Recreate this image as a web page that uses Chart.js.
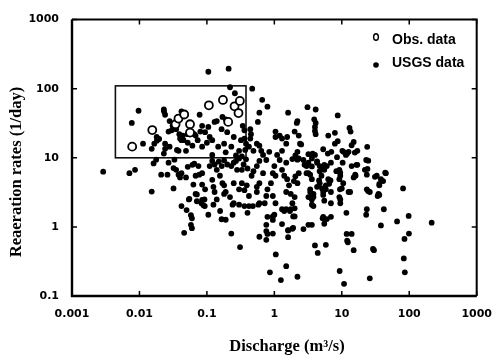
<!DOCTYPE html>
<html>
<head>
<meta charset="utf-8">
<script src="https://cdn.jsdelivr.net/npm/chart.js@4"></script>
<style>
  html, body { margin: 0; padding: 0; background: #fff; }
  #wrap { width: 504px; height: 358px; position: relative; }
</style>
</head>
<body>
<div id="wrap"><canvas id="chart"></canvas></div>
<script>
// Axis ticks (decades only)
const xTicks = [0.001, 0.01, 0.1, 1, 10, 100, 1000];
const yTicks = [0.1, 1, 10, 100, 1000];

// Highlighted range (rectangle) in data units
const boxQ = [0.0044, 0.38];
const boxK = [10, 110];

// Observed data: [discharge m3/s, reaeration 1/day]
const obsData = [
  [0.0078, 14.5], [0.0155, 25.2], [0.0343, 30.6], [0.0379, 37], [0.0461, 42.3],
  [0.0562, 30.6], [0.0562, 23.2], [0.107, 57.5], [0.173, 68.7], [0.257, 55.6],
  [0.308, 66.5], [0.294, 44.4], [0.207, 33.1]
];

// USGS data: [discharge m3/s, reaeration 1/day]
const usgsData = [
  // upper left (inside box)
  [0.0077, 32], [0.0097, 48], [0.0113, 16], [0.0152, 13.5], [0.0166, 16], [0.0181, 17.7],
  [0.0196, 18.7], [0.018, 20], [0.0231, 47], [0.024, 42], [0.023, 50], [0.028, 34],
  [0.031, 29], [0.030, 25], [0.027, 24], [0.035, 26], [0.039, 22], [0.044, 21],
  [0.042, 18], [0.040, 19], [0.052, 16.5], [0.061, 15], [0.049, 12.6], [0.038, 12.6],
  [0.036, 13], [0.028, 14.5], [0.024, 13.5], [0.023, 11.5], [0.024, 16], [0.042, 47],
  [0.038, 38], [0.034, 29], [0.052, 22], [0.065, 22], [0.078, 42], [0.085, 29],
  [0.085, 14.5], [0.073, 18], [0.068, 21], [0.080, 24], [0.094, 23.5], [0.045, 18],
  [0.105, 176], [0.21, 195], [0.105, 28], [0.1, 16.5], [0.12, 18], [0.147, 14.5],
  [0.18, 16], [0.23, 14.5], [0.30, 12.6], [0.32, 18], [0.25, 20], [0.20, 23.5],
  [0.165, 26], [0.13, 33], [0.17, 39], [0.19, 36], [0.14, 34], [0.26, 86], [0.22, 105],
  [0.34, 29], [0.36, 25], [0.36, 19], [0.38, 16], [0.37, 13], [0.11, 20], [0.12, 11],
  [0.19, 12], [0.27, 10.8], [0.33, 10.5],
  // upper right
  [0.47, 100], [0.66, 69], [0.79, 55], [0.6, 45], [0.57, 33], [0.44, 26], [0.45, 22],
  [0.44, 19], [0.49, 12.6], [0.42, 14.5], [0.68, 11], [0.64, 12.6], [0.6, 15], [0.55, 16],
  [0.84, 12.2], [1.1, 11], [1.3, 12.6], [1.5, 16], [1.55, 20], [1.3, 19], [1.04, 20],
  [1.04, 24], [1.2, 21], [1.6, 45], [2.0, 24], [2.3, 21], [2.2, 34], [2.4, 16],
  [2.15, 32], [2.5, 15.6], [2.2, 12.2], [2.05, 10.8], [3.2, 11.3], [3.7, 11.5], [4.0, 11],
  [3.1, 54], [4.1, 50], [3.9, 36], [4.1, 32], [4.0, 28], [4.0, 24.5], [4.1, 22], [6.3, 21],
  [8.7, 41], [7.9, 23], [8.7, 17.4], [7.9, 16], [10.2, 12.6], [12.6, 12.2], [11.5, 11],
  [13, 27], [13.5, 24], [15, 17], [14, 15.2], [17, 12.6], [23.8, 14.4], [5.3, 13.3],
  [6.2, 11.5], [7, 12.2], [10.6, 12.2], [12, 11.5], [15.6, 11.9], [8.5, 10.2],
  // middle band (1 - 10)
  [0.0029, 6.3], [0.0071, 6.0], [0.0086, 6.7], [0.0152, 3.25], [0.0162, 8.3], [0.0177, 9.4],
  [0.021, 5.7], [0.026, 5.7], [0.027, 8.5], [0.032, 7.1], [0.033, 9.4], [0.035, 6.7],
  [0.038, 5.7], [0.04, 5.2], [0.042, 6.0], [0.032, 3.6], [0.049, 5.2], [0.052, 7.4],
  [0.065, 8.2], [0.061, 7.9], [0.068, 5.5], [0.077, 5.7], [0.075, 7.6], [0.085, 6.0],
  [0.063, 4.1], [0.085, 4.1], [0.094, 3.5], [0.068, 3.0], [0.054, 2.5], [0.071, 2.95],
  [0.092, 2.5], [0.083, 2.2], [0.071, 2.35], [0.085, 2.45], [0.089, 2.05], [0.042, 2.0],
  [0.05, 1.75], [0.055, 2.55], [0.058, 1.48], [0.06, 1.33], [0.058, 1.07], [0.06, 0.96],
  [0.046, 0.82], [0.105, 1.5], [0.125, 2.1], [0.093, 2.0], [0.157, 1.7], [0.14, 2.5],
  [0.18, 3.0], [0.13, 3.2], [0.125, 3.8], [0.12, 4.8], [0.11, 7.6], [0.14, 6.7],
  [0.166, 7.6], [0.156, 5.5], [0.17, 4.3], [0.18, 4.0], [0.19, 3.2], [0.22, 2.7],
  [0.24, 2.1], [0.25, 2.2], [0.3, 2.1], [0.36, 2.0], [0.42, 2.0], [0.48, 2.0], [0.4, 1.6],
  [0.58, 2.1], [0.165, 1.29], [0.19, 1.27], [0.24, 1.5], [0.23, 0.8], [0.31, 0.51],
  [0.23, 7.6], [0.25, 8.5], [0.28, 6.7], [0.33, 6.7], [0.30, 9.8], [0.33, 4.3], [0.39, 4.0],
  [0.36, 3.4], [0.30, 3.5], [0.25, 4.3], [0.42, 2.8], [0.46, 5.5], [0.49, 6.4], [0.55, 7.6],
  [0.6, 9.0], [0.76, 9.3], [0.68, 6.0], [0.6, 4.3], [0.55, 3.8], [0.55, 3.2], [0.6, 2.2],
  [0.72, 2.2], [0.76, 2.8], [0.79, 3.5], [0.89, 4.3], [1.04, 5.5], [0.95, 6.0], [1.0, 7.6],
  [1.2, 9.3], [1.5, 8.5], [1.3, 6.7], [1.4, 5.5], [1.55, 4.9], [1.65, 4.0], [1.5, 3.2],
  [1.75, 3.0], [1.85, 2.2], [2.0, 2.7], [1.3, 1.8], [1.5, 1.8], [1.75, 1.8], [1.04, 2.2],
  [0.95, 2.8], [1.0, 1.5], [0.95, 1.26], [0.79, 1.4], [0.95, 1.42], [1.3, 1.1], [1.9, 0.97],
  [1.6, 0.9], [1.4, 1.7], [1.7, 1.7], [1.9, 1.42], [0.76, 1.07], [2.0, 1.42], [2.0, 1.86],
  [2.7, 9.3], [2.3, 9.8], [3.0, 7.6], [3.2, 6.0], [3.6, 4.9], [3.4, 3.5], [3.8, 3.0],
  [3.6, 2.1], [3.8, 2.7], [4.3, 3.8], [4.7, 4.3], [5.0, 5.5], [5.5, 6.7], [6.0, 7.6],
  [4.7, 7.6], [4.3, 8.5], [3.6, 9.8], [6.9, 8.5], [5.8, 4.0], [6.3, 4.9], [6.9, 3.2],
  [6.9, 2.2], [5.5, 2.4], [5.3, 1.4], [6.0, 1.3], [9.2, 6.7], [9.5, 5.5], [10.5, 4.3],
  [12.6, 3.2], [9.4, 3.5], [9.2, 2.7], [9.5, 2.2], [14, 7.6], [15.8, 5.7], [15, 5.2],
  [23, 9.3], [22, 6.7], [23.5, 5.7], [33, 5.5], [38, 4.9], [45, 6.0], [36, 4.0], [34, 2.8],
  [23.5, 3.5], [24.5, 3.3], [42, 1.8], [38, 1.05], [23.5, 1.8], [23, 1.5], [8.3, 6.4],
  [17, 7.9], [10.3, 8.5], [16.5, 7.9], [24.7, 9.1], [24, 6.9], [31, 5.3], [36, 4.2],
  [41, 4.6], [44, 6.1], [81, 3.6], [36, 2.9], [26, 3.2], [13.3, 3.2], [16, 5.5], [9.5, 6.1],
  [9.2, 4.9], [10, 3.6], [9.5, 2.5], [6.8, 4.7], [6.5, 4.2], [5.8, 3.5], [5.1, 3.6],
  [5.3, 3.2], [3.4, 3.2], [3.2, 2.7], [3.6, 2.5], [5.5, 7.9], [5.3, 6.9], [4.7, 6.4],
  [4.3, 8.9], [3.6, 7.5], [3.2, 8.5], [2.8, 7.9], [3.0, 6.0], [3.4, 5.7], [2.3, 6.0],
  [2.05, 5.4], [1.95, 4.6], [2.2, 4.3], [1.85, 9.6], [2.2, 9.4], [3.6, 2.8], [3.8, 2.0],
  [5.3, 2.9], [4.6, 4.7], [5.2, 1.33], [5.5, 1.11], [6.9, 1.4], [11.7, 1.6], [66, 1.2],
  [98, 1.44], [215, 1.15], [3.2, 1.07], [3.6, 1.07], [35, 3.0],
  [0.12, 9], [0.15, 8.8], [0.18, 9.2], [0.2, 8], [0.27, 9], [0.35, 8], [0.38, 9.5],
  [0.4, 7], [0.13, 8],
  // lower band (< 1)
  [0.6, 0.72], [0.76, 0.65], [0.79, 0.79], [0.95, 0.8], [0.76, 0.87], [1.05, 0.40],
  [0.86, 0.22], [1.25, 0.17], [1.5, 0.27], [2.2, 0.19], [1.6, 0.71], [1.6, 0.89],
  [1.85, 0.94], [2.7, 0.93], [4.0, 0.54], [4.4, 0.42], [5.8, 0.55], [9.3, 0.23],
  [10.8, 0.15], [11.8, 0.79], [14, 0.79], [12, 0.63], [12.3, 0.6], [15, 0.46], [26, 0.18],
  [29, 0.48], [30, 0.46], [83, 0.35], [86, 0.22], [85, 0.67], [99, 0.8]
];

const toPoints = arr => arr.map(p => ({ x: p[0], y: p[1] }));

const tickFont = { family: "'DejaVu Sans', sans-serif", size: 11, weight: 'bold' };

// Frame, inward ticks, highlight box, legend and axis titles
const decorPlugin = {
  id: 'decor',
  beforeDatasetsDraw(chart) {
    const { ctx, scales: { x, y } } = chart;
    const x0 = x.getPixelForValue(boxQ[0]), x1 = x.getPixelForValue(boxQ[1]);
    const y0 = y.getPixelForValue(boxK[1]), y1 = y.getPixelForValue(boxK[0]);
    ctx.save();
    ctx.strokeStyle = '#111';
    ctx.lineWidth = 1.6;
    ctx.strokeRect(x0, y0, x1 - x0, y1 - y0);
    ctx.restore();
  },
  afterDraw(chart) {
    const { ctx, chartArea: a, scales: { x, y } } = chart;
    ctx.save();
    ctx.strokeStyle = '#000';
    // frame
    ctx.lineWidth = 2;
    ctx.beginPath();
    ctx.moveTo(a.left, a.top); ctx.lineTo(a.right, a.top); ctx.lineTo(a.right, a.bottom);
    ctx.stroke();
    ctx.lineWidth = 2.4;
    ctx.beginPath();
    ctx.moveTo(a.left, a.top); ctx.lineTo(a.left, a.bottom); ctx.lineTo(a.right, a.bottom);
    ctx.stroke();
    // inward ticks
    ctx.lineWidth = 1.5;
    ctx.beginPath();
    xTicks.forEach(v => {
      const px = x.getPixelForValue(v);
      ctx.moveTo(px, a.bottom); ctx.lineTo(px, a.bottom - 5);
      ctx.moveTo(px, a.top); ctx.lineTo(px, a.top + 5);
    });
    yTicks.forEach(v => {
      const py = y.getPixelForValue(v);
      ctx.moveTo(a.left, py); ctx.lineTo(a.left + 5, py);
      ctx.moveTo(a.right, py); ctx.lineTo(a.right - 5, py);
    });
    ctx.stroke();

    // legend
    ctx.fillStyle = '#000';
    ctx.font = "bold 14px 'Liberation Sans', Arial, sans-serif";
    ctx.textBaseline = 'middle';
    ctx.textAlign = 'left';
    ctx.lineWidth = 1.4;
    ctx.beginPath();
    ctx.ellipse(376, 37, 2.4, 3.2, 0, 0, Math.PI * 2);
    ctx.stroke();
    ctx.fillText('Obs. data', 392, 40);
    ctx.beginPath();
    ctx.arc(376, 65, 2.8, 0, Math.PI * 2);
    ctx.fill();
    ctx.fillText('USGS data', 392, 63);

    // axis titles
    ctx.font = "bold 16.5px 'Liberation Serif', 'Times New Roman', serif";
    ctx.textAlign = 'center';
    ctx.fillText('Discharge (m\u00B3/s)', 287, 347);
    ctx.translate(17, 172);
    ctx.rotate(-Math.PI / 2);
    ctx.fillText('Reaeration rates (1/day)', 0, 0);
    ctx.restore();
  }
};

new Chart(document.getElementById('chart').getContext('2d'), {
  type: 'scatter',
  data: {
    datasets: [
      {
        label: 'Obs. data',
        data: toPoints(obsData),
        order: 0,
        pointStyle: 'circle',
        pointRadius: 4,
        backgroundColor: '#fff',
        borderColor: '#000',
        borderWidth: 1.8
      },
      {
        label: 'USGS data',
        data: toPoints(usgsData),
        order: 1,
        pointStyle: 'circle',
        pointRadius: 2.9,
        backgroundColor: '#000',
        borderWidth: 0
      }
    ]
  },
  options: {
    responsive: true,
    maintainAspectRatio: false,
    animation: false,
    layout: { padding: { left: 0, top: 12, right: 14, bottom: 0 } },
    plugins: {
      legend: { display: false },
      tooltip: { enabled: false }
    },
    scales: {
      x: {
        type: 'logarithmic',
        min: 0.001,
        max: 1000,
        afterBuildTicks: s => { s.ticks = xTicks.map(v => ({ value: v })); },
        afterFit: s => { s.height = 62; },
        grid: { display: false, drawTicks: false },
        border: { display: false },
        ticks: {
          autoSkip: false,
          maxRotation: 0,
          padding: 12,
          color: '#000',
          font: tickFont,
          callback: v => String(v)
        }
      },
      y: {
        type: 'logarithmic',
        min: 0.1,
        max: 1000,
        afterBuildTicks: s => { s.ticks = yTicks.map(v => ({ value: v })); },
        afterFit: s => { s.width = 72; },
        grid: { display: false, drawTicks: false },
        border: { display: false },
        ticks: {
          autoSkip: false,
          padding: 13,
          color: '#000',
          font: tickFont,
          callback: v => String(v)
        }
      }
    }
  },
  plugins: [decorPlugin]
});
</script>
</body>
</html>
